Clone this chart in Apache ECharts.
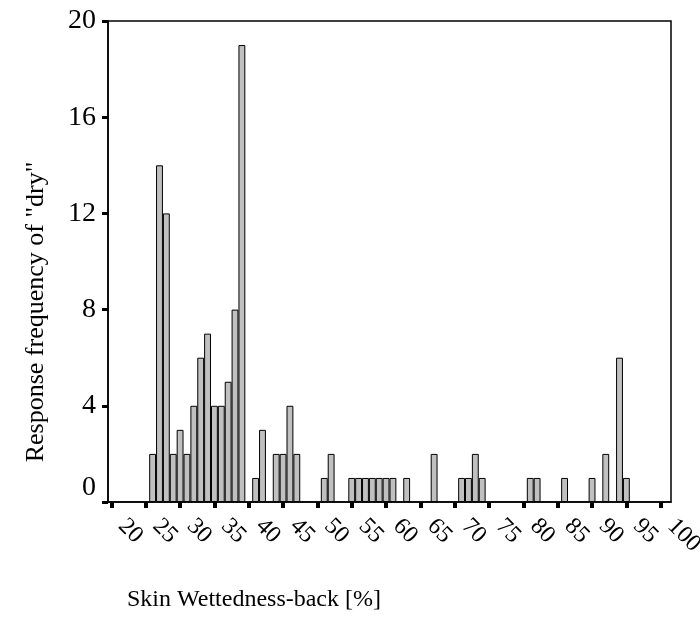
<!DOCTYPE html>
<html>
<head>
<meta charset="utf-8">
<script src="https://cdn.jsdelivr.net/npm/echarts@6/dist/echarts.min.js"></script>
<style>
  html, body { margin: 0; padding: 0; background: #fff; }
  #chart { width: 700px; height: 624px; }
</style>
</head>
<body>
<div id="chart"></div>
<script>
// Skin wettedness (back) categories, one per percent from 20 to 101
const wettedness = [];
for (let w = 20; w <= 101; w++) wettedness.push(w);

// A tick and label every 5 % (20, 25, ... 100)
const xLabelEvery = 5;

// Wettedness values that received "dry" responses, with their counts
const dryAt     = [26, 27, 28, 29, 30, 31, 32, 33, 34, 35, 36, 37, 38, 39,
                   41, 42, 44, 45, 46, 47, 51, 52,
                   55, 56, 57, 58, 59, 60, 61, 63, 67,
                   71, 72, 73, 74, 81, 82, 86, 90, 92, 94, 95];
const dryCounts = [2, 14, 12, 2, 3, 2, 4, 6, 7, 4, 4, 5, 8, 19,
                   1, 3, 2, 2, 4, 2, 1, 2,
                   1, 1, 1, 1, 1, 1, 1, 1, 2,
                   1, 1, 2, 1, 1, 1, 1, 1, 2, 6, 1];

const yTicks = [0, 4, 8, 12, 16, 20];

const frequency = wettedness.map(function (w) {
  const i = dryAt.indexOf(w);
  return i >= 0 ? dryCounts[i] : null;
});

const serif = '"Liberation Serif", "Times New Roman", serif';

const chart = echarts.init(document.getElementById('chart'), null, { renderer: 'canvas' });
chart.setOption({
  animation: false,
  backgroundColor: '#ffffff',
  grid: {
    left: 108, top: 21, right: 29, bottom: 122,
    outerBoundsMode: 'none',
    containLabel: false,
    show: true, borderColor: '#000', borderWidth: 1.5, backgroundColor: 'transparent'
  },
  xAxis: {
    type: 'category',
    data: wettedness,
    boundaryGap: true,
    axisLine: { lineStyle: { color: '#000', width: 1.5 } },
    axisTick: {
      show: true,
      alignWithLabel: true,
      interval: xLabelEvery - 1,
      length: 6,
      lineStyle: { color: '#000', width: 4 }
    },
    axisLabel: {
      interval: xLabelEvery - 1,
      rotate: -45,
      margin: 10,
      padding: [0, 0, 0, 15],
      hideOverlap: false,
      color: '#000',
      fontFamily: serif,
      fontSize: 24,
      lineHeight: 20
    },
    splitLine: { show: false }
  },
  yAxis: {
    type: 'value',
    min: yTicks[0],
    max: yTicks[yTicks.length - 1],
    interval: 4,
    axisLine: { show: true, lineStyle: { color: '#000', width: 1.5 } },
    axisTick: { show: true, length: 6, lineStyle: { color: '#000', width: 3 } },
    axisLabel: {
      color: '#000',
      fontFamily: serif,
      fontSize: 28,
      margin: 12,
      formatter: function (v) { return v === 0 ? '{z|0}' : String(v); },
      rich: { z: { fontFamily: serif, fontSize: 28, color: '#000', padding: [0, 0, 28, 0] } }
    },
    splitLine: { show: false }
  },
  graphic: [
    {
      type: 'text',
      x: 36, y: 312,
      rotation: Math.PI / 2,
      style: {
        text: 'Response frequency of "dry"',
        font: '26px ' + serif,
        fill: '#000',
        textAlign: 'center',
        textVerticalAlign: 'middle'
      }
    },
    {
      type: 'text',
      x: 127, y: 600,
      style: {
        text: 'Skin Wettedness-back [%]',
        font: '24px ' + serif,
        fill: '#000',
        textAlign: 'left',
        textVerticalAlign: 'middle'
      }
    }
  ],
  series: [{
    type: 'bar',
    data: frequency,
    barCategoryGap: '0%',
    barGap: '0%',
    itemStyle: { color: '#c0c0c0', borderColor: '#000', borderWidth: 1 }
  }]
});
</script>
</body>
</html>
